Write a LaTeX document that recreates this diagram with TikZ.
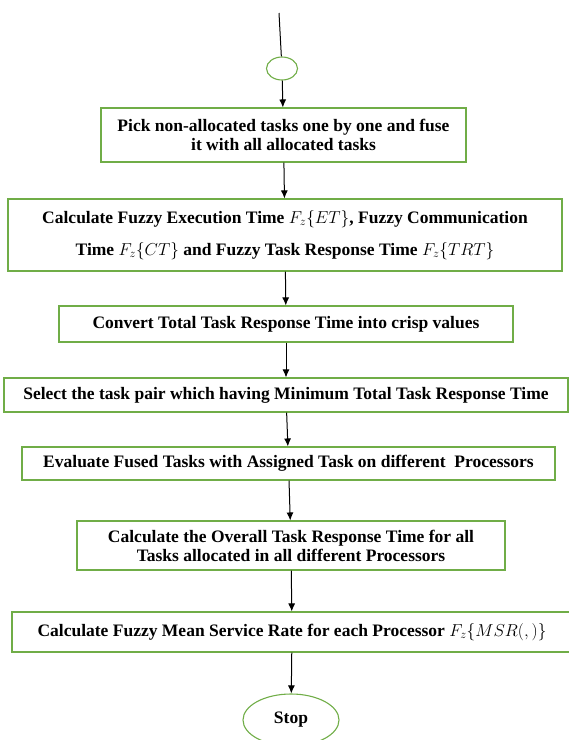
\documentclass[tikz,border=0pt]{standalone}
\usepackage{fontspec}
\setmainfont{Liberation Serif}
\usepackage{amsmath}
\usepackage{tikz}
\usetikzlibrary{shapes,arrows.meta}
\definecolor{boxgreen}{RGB}{112,173,71}

\begin{document}
\begin{tikzpicture}[x=1pt,y=-1pt]
	\tikzstyle{debutfin}=[ellipse,draw=boxgreen,line width=1.1pt,inner sep=0pt,
	font=\bfseries\fontsize{17.5}{19}\selectfont]
	\tikzstyle{etape}=[rectangle,draw=boxgreen,line width=1.1pt,inner sep=0pt,
	align=center,font=\bfseries\fontsize{17.5}{19}\selectfont]

	\useasboundingbox (0,0) rectangle (569,740);

	\coordinate (haut) at (279,13);
	\node[debutfin,minimum width=31pt,minimum height=23pt] (debut) at (282,68.5) {};
	\node[etape,minimum width=365pt,minimum height=54pt] (e1) at (283.5,135)
	{Pick non-allocated tasks one by one and fuse\\it with all allocated tasks};
	\node[etape,minimum width=554pt,minimum height=72pt] (e2) at (285,235)
	{Calculate Fuzzy Execution Time $F_z\{ET\}$, Fuzzy Communication\\[13pt]
	Time $F_z\{CT\}$ and Fuzzy Task Response Time $F_z\{TRT\}$};
	\node[etape,minimum width=454pt,minimum height=36pt] (e3) at (286,324)
	{Convert Total Task Response Time into crisp values};
	\node[etape,minimum width=564pt,minimum height=34pt] (e4) at (286,395)
	{Select the task pair which having Minimum Total Task Response Time};
	\node[etape,minimum width=533pt,minimum height=33pt] (e5) at (288.5,463.5)
	{Evaluate Fused Tasks with Assigned Task on different\ \ Processors};
	\node[etape,minimum width=428pt,minimum height=49pt] (e6) at (291,545.5)
	{Calculate the Overall Task Response Time for all\\Tasks allocated in all
	different Processors};
	\node[etape,minimum width=560pt,minimum height=40pt] (e7) at (292,632)
	{Calculate Fuzzy Mean Service Rate for each Processor $F_z\{MSR(,)\}$};
	\node[debutfin,minimum width=96pt,minimum height=52pt] (fin) at (291,720)
	{Stop};

	\tikzstyle{suite}=[->,>={Latex[length=8pt,width=7pt]},line width=1pt]

	\draw[line width=1pt] (haut) -- (debut);
	\draw[suite] (debut) -- (e1);
	\draw[suite] (e1) -- (e2);
	\draw[suite] (e2) -- (e3);
	\draw[suite] (e3) -- (e4);
	\draw[suite] (e4) -- (e5);
	\draw[suite] (e5) -- (e6);
	\draw[suite] (e6) -- (e7);
	\draw[suite] (e7) -- (fin);
\end{tikzpicture}
\end{document}
